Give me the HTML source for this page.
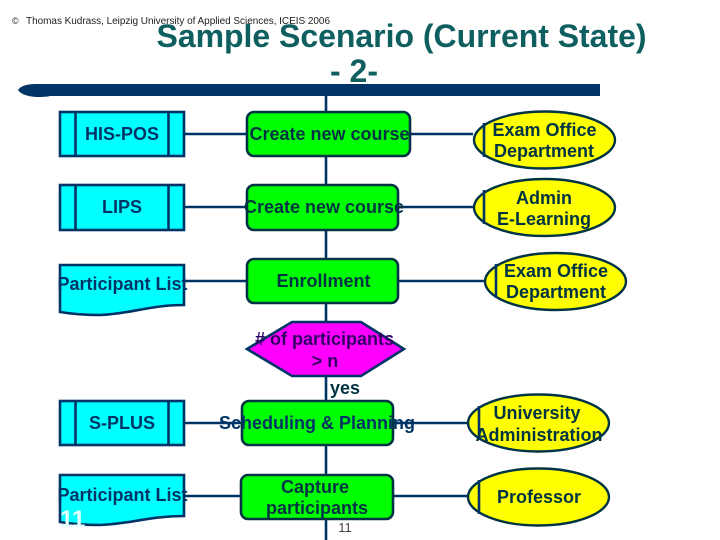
<!DOCTYPE html>
<html>
<head>
<meta charset="utf-8">
<style>
html,body{margin:0;padding:0;background:#fff;}
svg{display:block;}
text{font-family:"Liberation Sans",sans-serif;font-weight:bold;font-size:18px;text-anchor:middle;}
.s{fill:#00ffff;stroke:#003366;stroke-width:2.6;}
.g{fill:#00ff00;stroke:#003344;stroke-width:2.6;}
.y{fill:#ffff00;stroke:#003344;stroke-width:2.4;}
.l{stroke:#003366;stroke-width:2.6;fill:none;}
.tb{fill:#003366;}
.tg{fill:#003344;}
</style>
</head>
<body>
<svg width="720" height="540" viewBox="0 0 720 540" xmlns="http://www.w3.org/2000/svg">
<rect width="720" height="540" fill="#fff"/>

<text x="12" y="24" style="font-size:9px;font-weight:normal;text-anchor:start;fill:#222">©</text>
<text x="26" y="24" style="font-size:10px;font-weight:normal;text-anchor:start;fill:#222" textLength="304" lengthAdjust="spacing">Thomas Kudrass, Leipzig University of Applied Sciences, ICEIS 2006</text>
<text x="401.500" y="47" style="font-size:32px;fill:#0f5f60" textLength="490" lengthAdjust="spacing">Sample Scenario (Current State)</text>
<text x="354" y="82" style="font-size:32px;fill:#0f5f60">- 2-</text>

<path d="M50 84H600V96H50Q47 97 36 97Q22 96 18 90Q22 84 36 84Z" fill="#003366"/>

<line class="l" x1="326" y1="96" x2="326" y2="540"/>
<g class="l">
<line x1="185" y1="134" x2="473" y2="134"/>
<line x1="185" y1="207" x2="473" y2="207"/>
<line x1="185" y1="281" x2="484" y2="281"/>
<line x1="185" y1="423" x2="467" y2="423"/>
<line x1="185" y1="496" x2="467" y2="496"/>
</g>

<!-- left stores -->
<g>
<rect class="s" x="60" y="112" width="124" height="44"/><line class="l" x1="75.500" y1="111" x2="75.500" y2="157"/><line class="l" x1="168.500" y1="111" x2="168.500" y2="157"/>
<rect class="s" x="60" y="185" width="124" height="45"/><line class="l" x1="75.500" y1="184" x2="75.500" y2="231"/><line class="l" x1="168.500" y1="184" x2="168.500" y2="231"/>
<rect class="s" x="60" y="401" width="124" height="44"/><line class="l" x1="75.500" y1="400" x2="75.500" y2="446"/><line class="l" x1="168.500" y1="400" x2="168.500" y2="446"/>
<path class="s" d="M60 265H184V305C150 305 130 314 100 315C85 315 72 314 60 312Z"/>
<path class="s" d="M60 475H184V516C150 516 130 524 100 525C85 525 72 524 60 522Z"/>
</g>

<!-- green processes -->
<rect class="g" x="247" y="112" width="163" height="44" rx="7"/>
<rect class="g" x="247" y="185" width="151" height="45" rx="7"/>
<rect class="g" x="247" y="259" width="151" height="44" rx="7"/>
<rect class="g" x="242" y="401" width="151" height="44" rx="7"/>
<rect class="g" x="241" y="475" width="152" height="44" rx="7"/>

<!-- hexagon -->
<polygon points="247,349 292,322 361,322 404,349 361,376 292,376" fill="#ff00ff" stroke="#003366" stroke-width="2.600"/>

<!-- ellipses -->
<ellipse class="y" cx="544.500" cy="140" rx="70.500" ry="28.500"/><line class="l" x1="484" y1="123" x2="484" y2="157"/>
<ellipse class="y" cx="544.500" cy="207.500" rx="70.500" ry="28.500"/><line class="l" x1="484" y1="190" x2="484" y2="224"/>
<ellipse class="y" cx="555.500" cy="281.500" rx="70.500" ry="28.500"/><line class="l" x1="496" y1="264" x2="496" y2="298"/>
<ellipse class="y" cx="538.500" cy="423" rx="70.500" ry="28.500"/><line class="l" x1="479" y1="406" x2="479" y2="440"/>
<ellipse class="y" cx="538.500" cy="497" rx="70.500" ry="28.500"/><line class="l" x1="479" y1="480" x2="479" y2="514"/>

<!-- labels -->
<text class="tb" x="122" y="140">HIS-POS</text>
<text class="tb" x="122" y="213">LIPS</text>
<text class="tb" x="122.500" y="290">Participant List</text>
<text class="tb" x="122" y="429">S-PLUS</text>
<text class="tb" x="122.500" y="501">Participant List</text>

<text class="tg" x="329.500" y="140">Create new course</text>
<text class="tg" x="324" y="213">Create new course</text>
<text class="tg" x="323.500" y="287">Enrollment</text>
<text class="tb" x="317" y="429">Scheduling &amp; Planning</text>
<text class="tg" x="315" y="493">Capture</text>
<text class="tg" x="317" y="514">participants</text>

<text x="324.500" y="345" fill="#330066">&#35; of participants</text>
<text x="325" y="367" fill="#330066">&gt; n</text>
<text class="tg" x="345" y="394">yes</text>

<text class="tg" x="544.500" y="136">Exam Office</text>
<text class="tg" x="544" y="157">Department</text>
<text class="tg" x="544" y="204">Admin</text>
<text class="tg" x="544" y="225">E-Learning</text>
<text class="tg" x="556" y="277">Exam Office</text>
<text class="tg" x="556" y="298">Department</text>
<text class="tg" x="537" y="419">University</text>
<text class="tg" x="539" y="441">Administration</text>
<text class="tg" x="539" y="503">Professor</text>

<text x="72.500" y="527" style="font-size:24px;fill:#e8ffff">11</text>
<text x="345" y="532" style="font-size:13px;font-weight:normal;fill:#444">11</text>
</svg>
</body>
</html>
